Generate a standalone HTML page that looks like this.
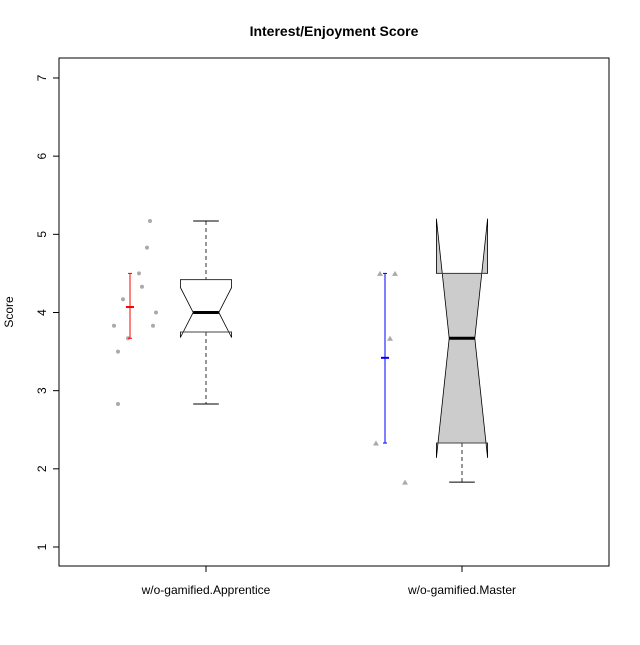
<!DOCTYPE html>
<html><head><meta charset="utf-8"><style>body{margin:0;background:#fff}svg{font-family:"Liberation Sans",sans-serif}</style></head>
<body>
<svg id="c" width="640" height="640" xmlns="http://www.w3.org/2000/svg">
<rect x="59" y="58" width="550" height="508" fill="none" stroke="#000"/>
<text x="334" y="36" text-anchor="middle" font-size="14" font-weight="bold">Interest/Enjoyment Score</text>
<text transform="translate(13,312) rotate(-90)" text-anchor="middle" font-size="12">Score</text>
<g id="g"></g>
</svg>
<script>
const categories=["w/o-gamified.Apprentice","w/o-gamified.Master"];
const yTicks=[1,2,3,4,5,6,7];
const jitter1=[-0.56,-0.59,-0.67,-0.64,-0.83,-0.50,-0.92,-0.53,-0.78,-0.88,-0.88];
const vals1=[5.17,4.83,4.5,4.33,4.17,4.0,3.83,3.83,3.67,3.5,2.83];
const jitter2=[-0.82,-0.67,-0.72,-0.86,-0.57];
const vals2=[4.5,4.5,3.67,2.33,1.83];
const errMean=[4.07,3.42];
const errLo=[3.67,2.33];
const errHi=[4.5,4.5];
const boxMed=[4.0,3.67];
const boxQ1=[3.75,2.33];
const boxQ3=[4.42,4.5];
const whiskLo=[2.83,1.83];
const whiskHi=[5.17,4.5];
const notchLo=[3.68,2.14];
const notchHi=[4.32,5.2];
const boxFill=["#fff","#cccccc"];
const errColor=["red","blue"];

const NS="http://www.w3.org/2000/svg";
const g=document.getElementById('g');
const y=v=>547-(v-1)*78.17;
const x=i=>206+i*256;
const hw=25.6;
function el(t,a,p){const e=document.createElementNS(NS,t);for(const k in a)e.setAttribute(k,a[k]);(p||g).appendChild(e);return e;}

yTicks.forEach(t=>{
  const tk=el('line',{x1:53,x2:59,y1:y(t),y2:y(t),stroke:'#000'});
  
  
  const tx=el('text',{transform:`translate(46,${y(t)}) rotate(-90)`,'text-anchor':'middle','font-size':12});
  tx.textContent=t;
  
  
});
categories.forEach((c,i)=>{
  const tk=el('line',{x1:x(i),x2:x(i),y1:566,y2:572,stroke:'#000'});
  
  
  const tx=el('text',{x:x(i),y:594,'text-anchor':'middle','font-size':12});
  tx.textContent=c;
  
  
});
vals1.forEach((v,k)=>{
  const p=el('circle',{cx:x(0)+jitter1[k]*100,cy:y(v),r:2,fill:'#aaa'});
  
  
});
vals2.forEach((v,k)=>{
  const px=x(1)+jitter2[k]*100,py=y(v);
  const p=el('polygon',{points:`${px-3},${py+2.5} ${px+3},${py+2.5} ${px},${py-2.5}`,fill:'#aaa'});
  
  
});
categories.forEach((c,i)=>{
  const ex=x(i)-(i==0?76:77);
  const eg=el('g',{stroke:errColor[i],'stroke-width':1});
  
  
  el('line',{x1:ex,x2:ex,y1:y(errHi[i]),y2:y(errLo[i])},eg);
  el('line',{x1:ex-2,x2:ex+2,y1:y(errHi[i]),y2:y(errHi[i])},eg);
  el('line',{x1:ex-2,x2:ex+2,y1:y(errLo[i]),y2:y(errLo[i])},eg);
  el('line',{x1:ex-4,x2:ex+4,y1:y(errMean[i]),y2:y(errMean[i]),'stroke-width':2},eg);
  const cx=x(i),L=cx-hw,R=cx+hw,mw=hw/2;
  const bg=el('g',{});
  
  
  el('line',{x1:cx,x2:cx,y1:y(whiskHi[i]),y2:y(boxQ3[i]),stroke:'#777','stroke-dasharray':'4,3','stroke-width':1.5},bg);
  el('line',{x1:cx,x2:cx,y1:y(boxQ1[i]),y2:y(whiskLo[i]),stroke:'#777','stroke-dasharray':'4,3','stroke-width':1.5},bg);
  el('line',{x1:cx-mw,x2:cx+mw,y1:y(whiskLo[i]),y2:y(whiskLo[i]),stroke:'#000'},bg);
  if(whiskHi[i]>boxQ3[i]) el('line',{x1:cx-mw,x2:cx+mw,y1:y(whiskHi[i]),y2:y(whiskHi[i]),stroke:'#000'},bg);
  const pts=[[L,y(boxQ3[i])],[L,y(notchHi[i])],[cx-mw,y(boxMed[i])],[L,y(notchLo[i])],[L,y(boxQ1[i])],[R,y(boxQ1[i])],[R,y(notchLo[i])],[cx+mw,y(boxMed[i])],[R,y(notchHi[i])],[R,y(boxQ3[i])]];
  el('polygon',{points:pts.map(p=>p.join(',')).join(' '),fill:boxFill[i],stroke:'#000','stroke-width':0.8},bg);
  el('line',{x1:L,x2:R,y1:y(boxQ3[i]),y2:y(boxQ3[i]),stroke:'#444'},bg);
  el('line',{x1:L,x2:R,y1:y(boxQ1[i]),y2:y(boxQ1[i]),stroke:'#444'},bg);
  el('line',{x1:cx-mw,x2:cx+mw,y1:y(boxMed[i]),y2:y(boxMed[i]),stroke:'#000','stroke-width':3},bg);
});
</script>
</body></html>
